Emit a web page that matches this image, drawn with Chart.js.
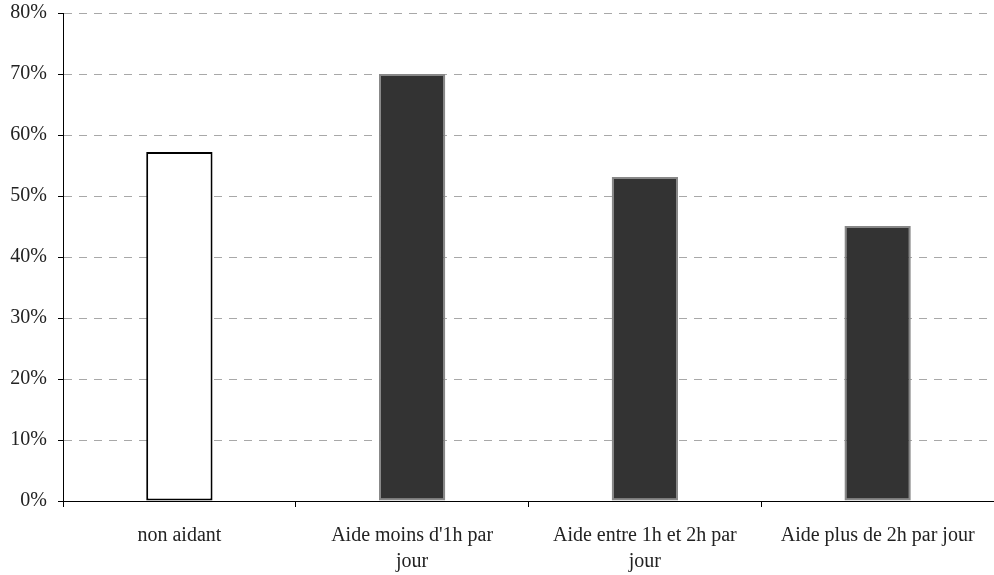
<!DOCTYPE html>
<html><head><meta charset="utf-8">
<script src="https://cdn.jsdelivr.net/npm/chart.js@4"></script>
<style>html,body{margin:0;padding:0;background:#fff;}#wrap{width:994px;height:575px;}</style>
</head><body><div id="wrap"><canvas id="c" width="994" height="575"></canvas></div>
<script>
const categories = [["non aidant"], ["Aide moins d'1h par", "jour"], ["Aide entre 1h et 2h par", "jour"], ["Aide plus de 2h par jour"]];
const values = [57.2, 70.0, 53.1, 45.1];
const yTicks = [0, 10, 20, 30, 40, 50, 60, 70, 80];
const fillColors = ["#ffffff", "#333333", "#333333", "#333333"];
const borderColors = ["#000000", "#888888", "#888888", "#888888"];

const fontFamily = "'Liberation Serif', 'DejaVu Serif', serif";
new Chart(document.getElementById('c'), {
  type: 'bar',
  data: {
    labels: categories,
    datasets: [{
      data: values,
      backgroundColor: fillColors,
      borderColor: borderColors,
      borderWidth: 2,
      borderSkipped: false,
      barPercentage: 0.285,
      categoryPercentage: 1.0
    }]
  },
  options: {
    responsive: false,
    animation: false,
    layout: { padding: { top: 13, right: 0, left: 0, bottom: 0 } },
    plugins: { legend: { display: false }, tooltip: { enabled: false } },
    scales: {
      x: {
        offset: true,
        grid: { display: true, drawOnChartArea: false, offset: true, tickLength: 6, color: '#000', lineWidth: 1 },
        border: { display: true, color: '#000', width: 1 },
        ticks: { color: '#222', font: { family: fontFamily, size: 20, lineHeight: 1.3 }, padding: 16, maxRotation: 0, autoSkip: false },
        afterFit: s => { s.height = 74; s.paddingLeft = 0; s.paddingRight = 0; }
      },
      y: {
        min: 0, max: 80,
        afterBuildTicks: s => { s.ticks = yTicks.map(v => ({ value: v })); },
        grid: { color: '#a8a8a8', lineWidth: 1, tickLength: 5, tickColor: '#000', drawTicks: true, tickBorderDash: [] },
        border: { display: true, color: '#000', width: 1, dash: [8, 7] },
        ticks: { color: '#222', font: { family: fontFamily, size: 20 }, padding: 11, callback: v => v + '%' },
        afterFit: s => { s.width = 63; s.paddingTop = 0; s.paddingBottom = 0; }
      }
    }
  }
});
</script></body></html>
